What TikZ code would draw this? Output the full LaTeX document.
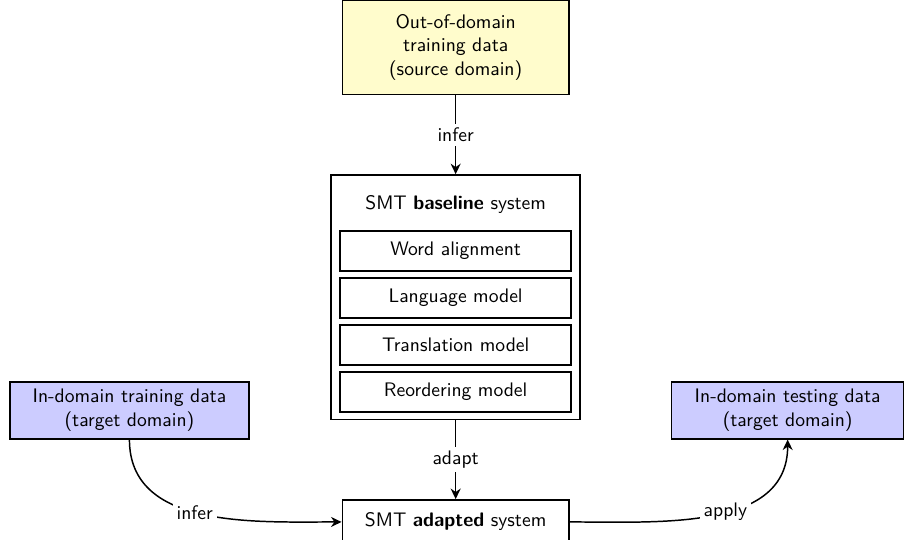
\documentclass[tikz,border=0pt]{standalone}
\usepackage{tikz}
\usetikzlibrary{positioning,arrows.meta}

\newcommand{\diagfont}{\sffamily\fontsize{10.6}{12.8}\selectfont}
\tikzset{
  databox/.style={draw, thick, rectangle, align=center, font=\diagfont},
  partbox/.style={draw, thick, rectangle, minimum width=4.39cm, minimum height=0.76cm, font=\diagfont},
  flow/.style={-{Stealth[length=2mm, width=1.9mm]}, thick},
  lbl/.style={fill=white, font=\diagfont, inner sep=2pt}
}

\begin{document}
\begin{tikzpicture}
    \useasboundingbox (0,0) rectangle (17.2,-10.26);
    % data sets
    \node[databox, fill=yellow!20, minimum width=4.31cm, minimum height=1.8cm] (src) at (8.66,-0.9)
      {Out-of-domain\\training data\\(source domain)};
    \node[databox, fill=blue!20, minimum width=4.54cm, minimum height=1.08cm] (train) at (2.46,-7.8)
      {In-domain training data\\(target domain)};
    \node[databox, fill=blue!20, minimum width=4.41cm, minimum height=1.08cm] (test) at (14.97,-7.8)
      {In-domain testing data\\(target domain)};
    % baseline system with its parts
    \node[draw, thick, rectangle, minimum width=4.73cm, minimum height=4.65cm] (base) at (8.66,-5.65) {};
    \node[font=\diagfont] (title) at (8.66,-3.88) {SMT \textbf{baseline} system};
    \coordinate (s) at (8.66,-4.77);
    \foreach \part [count=\i] in {Word alignment, Language model, Translation model, Reordering model}{
      \node[partbox] (part\i) at (s) {\part};
      \path (s) ++(0,-0.893) coordinate (s);
    }
    % adapted system
    \node[databox, minimum width=4.31cm, minimum height=0.84cm] (adapt) at (8.66,-9.92)
      {SMT \textbf{adapted} system};
    % connectors
    \draw[flow] (src) -- node[lbl] {infer} (base);
    \draw[flow] (base) -- node[lbl] {adapt} (adapt);
    \draw[flow] (train.south) to[out=-90, in=180] node[lbl, pos=0.47] {infer} (adapt.west);
    \draw[flow] (adapt.east) to[out=0, in=-90] node[lbl, pos=0.55] {apply} (test.south);
\end{tikzpicture}
\end{document}
